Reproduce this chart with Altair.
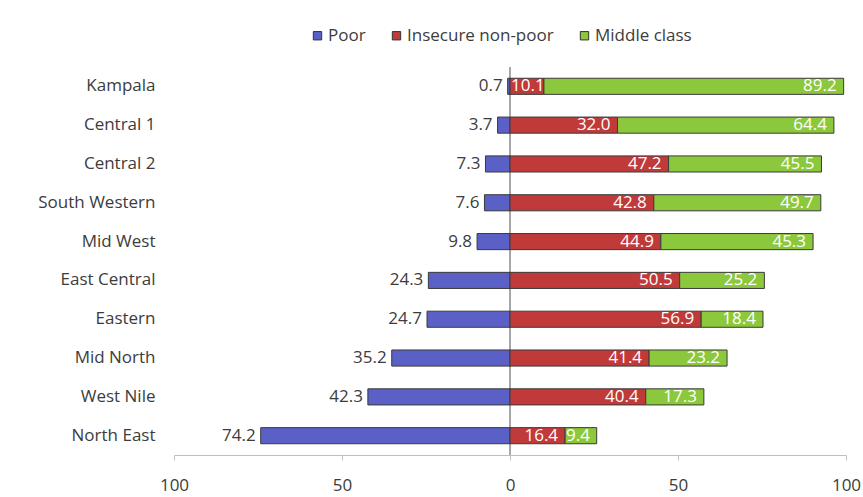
import altair as alt
import pandas as pd

# Income class shares (%) by sub-region
regions = ["Kampala", "Central 1", "Central 2", "South Western", "Mid West",
           "East Central", "Eastern", "Mid North", "West Nile", "North East"]
poor = [0.7, 3.7, 7.3, 7.6, 9.8, 24.3, 24.7, 35.2, 42.3, 74.2]
insecure = [10.1, 32.0, 47.2, 42.8, 44.9, 50.5, 56.9, 41.4, 40.4, 16.4]
middle = [89.2, 64.4, 45.5, 49.7, 45.3, 25.2, 18.4, 23.2, 17.3, 9.4]

classes = ["Poor", "Insecure non-poor", "Middle class"]
colors = ["#5A60C6", "#C03A3A", "#8CC83C"]

rows = []
for r, p, i, m in zip(regions, poor, insecure, middle):
    # poor extends left of zero, the other two stack to the right
    rows.append({"region": r, "cls": "Poor", "value": p, "start": -p, "end": 0.0})
    rows.append({"region": r, "cls": "Insecure non-poor", "value": i, "start": 0.0, "end": i})
    rows.append({"region": r, "cls": "Middle class", "value": m, "start": i, "end": i + m})
df = pd.DataFrame(rows)
df["label"] = df["value"].map(lambda v: f"{v:.1f}")

FONT = "Open Sans"
GREY = "#3C3C3C"
FS = 17

x_scale = alt.Scale(domain=[-100, 100], nice=False, zero=False)
y_sorted = alt.Y("region:N", sort=regions)

base = alt.Chart(df)

zero_line = base.mark_rule(color="#A6A6A6", strokeWidth=1).encode(
    x=alt.datum(0, scale=x_scale)
)

bars = base.mark_bar(stroke="#3A3A3A", strokeWidth=1).encode(
    x=alt.X("start:Q", scale=x_scale, title=None,
            axis=alt.Axis(values=[-100, -50, 0, 50, 100], labelExpr="abs(datum.value)",
                          grid=False, domainColor="#BFBFBF", tickColor="#BFBFBF",
                          tickSize=5, labelPadding=17, labelFontSize=FS, labelFlush=False,
                          labelColor=GREY, labelFont=FONT)),
    x2="end:Q",
    y=alt.Y("region:N", sort=regions, title=None,
            scale=alt.Scale(paddingInner=0.585, paddingOuter=0.29),
            axis=alt.Axis(domain=False, ticks=False, labelPadding=19,
                          labelFontSize=FS, labelColor=GREY, labelFont=FONT)),
    color=alt.Color("cls:N", sort=classes,
                    scale=alt.Scale(domain=classes, range=colors),
                    legend=alt.Legend(title=None, orient="none", direction="horizontal",
                                      legendX=135, legendY=-40,
                                      symbolType="square", symbolSize=70,
                                      symbolStrokeColor="#333333", symbolStrokeWidth=1,
                                      labelFontSize=FS, labelFont=FONT, labelColor=GREY,
                                      labelOffset=2, columnPadding=22)),
)

# poor values sit just outside the left end of their bars
poor_labels = base.transform_filter(alt.datum.cls == "Poor").mark_text(
    align="right", baseline="middle", dx=-5, fontSize=FS, font=FONT, color=GREY
).encode(x=alt.X("start:Q", scale=x_scale), y=y_sorted, text="label:N")

# the right-hand segments carry white labels at their inner end
inner_labels = base.transform_filter(
    (alt.datum.cls != "Poor") & (alt.datum.value >= 11)
).mark_text(
    align="right", baseline="middle", dx=-7, fontSize=FS, font=FONT, color="white"
).encode(x=alt.X("end:Q", scale=x_scale), y=y_sorted, text="label:N")

# short segments start their label at the segment's beginning
short_labels = base.transform_filter(
    (alt.datum.cls != "Poor") & (alt.datum.value < 11)
).mark_text(
    align="left", baseline="middle", dx=1, fontSize=FS, font=FONT, color="white"
).encode(x=alt.X("start:Q", scale=x_scale), y=y_sorted, text="label:N")

chart = alt.layer(zero_line, bars, poor_labels, inner_labels, short_labels).properties(
    width=672, height=388,
    autosize=alt.AutoSizeParams(type="none"),
    padding={"left": 174, "top": 67, "right": 17, "bottom": 42},
    background="white",
).configure_view(stroke=None)

chart.save("out.html", embed_options={"renderer": "svg", "actions": False})
